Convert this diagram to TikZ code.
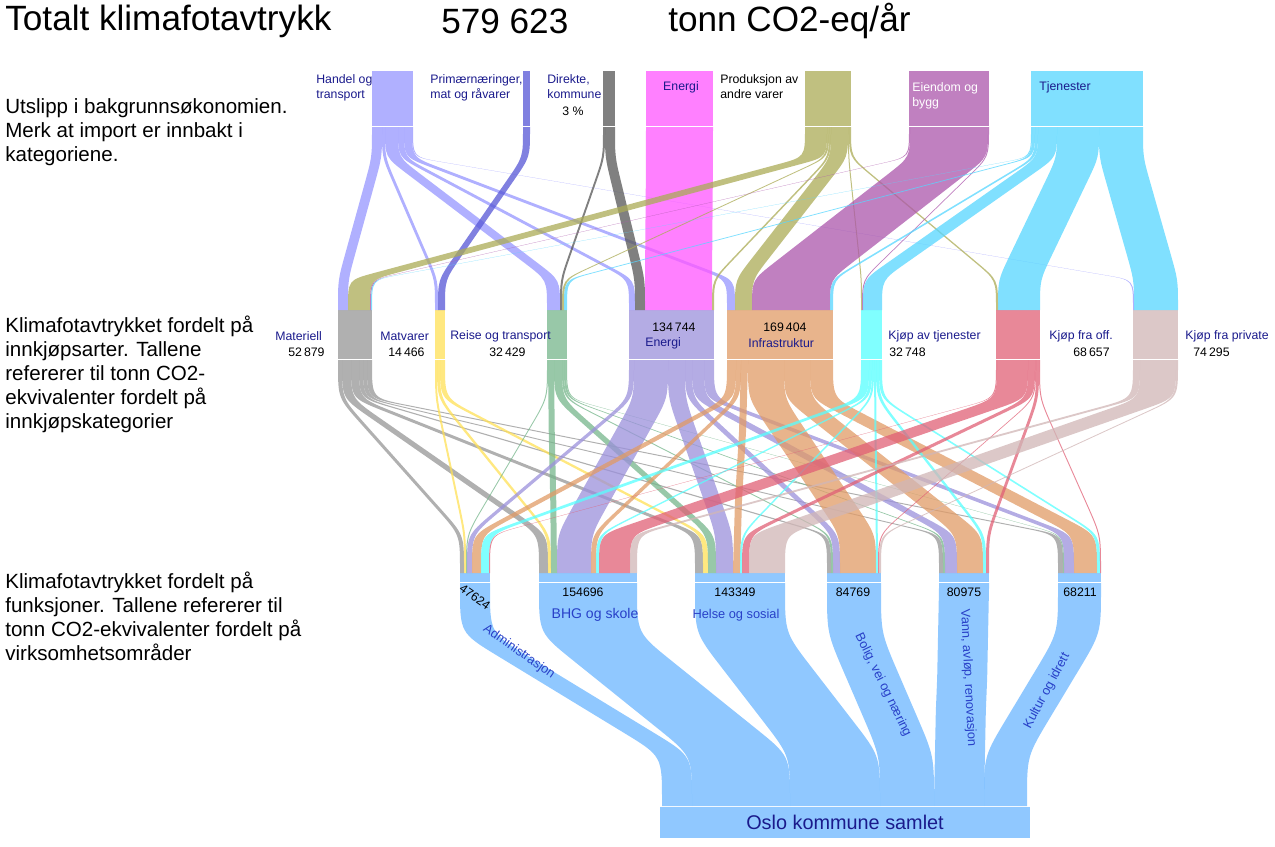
\documentclass[tikz,border=0pt]{standalone}
\usepackage{fontspec}
\setmainfont{Liberation Sans}
\usetikzlibrary{calc}
% colours are the base tones, shown at fill opacity .75
\definecolor{handel}{RGB}{150,150,255}
\definecolor{primaer}{RGB}{86,86,214}
\definecolor{direkte}{RGB}{86,86,86}
\definecolor{energitopp}{RGB}{255,86,255}
\definecolor{produksjon}{RGB}{171,171,86}
\definecolor{eiendom}{RGB}{171,86,171}
\definecolor{tjenestetopp}{RGB}{86,214,255}
\definecolor{materiell}{RGB}{150,150,150}
\definecolor{matvarer}{RGB}{255,224,86}
\definecolor{reise}{RGB}{118,182,139}
\definecolor{energi}{RGB}{155,144,219}
\definecolor{infra}{RGB}{224,155,102}
\definecolor{tjenester}{RGB}{86,255,255}
\definecolor{offentlig}{RGB}{224,96,118}
\definecolor{privat}{RGB}{208,182,182}
\definecolor{funksjon}{RGB}{107,182,255}
\definecolor{lbl}{RGB}{26,26,140}
\definecolor{funklbl}{RGB}{40,64,200}
\tikzset{
	barfill/.style={fill=#1, fill opacity=.75},
}
% band from (xa1..xa2, ya) down to (xb1..xb2, yb): vertical stub #8, straight slope, corner radius #9
\newcommand{\band}[9]{%
	\fill[barfill=#1] (#2,#4) -- (#2,#4+#8-#9)
		.. controls (#2,#4+#8) .. ($(#2,#4+#8)!#9*0.02cm!(#5,#7-#8)$)
		-- ($(#5,#7-#8)!#9*0.02cm!(#2,#4+#8)$)
		.. controls (#5,#7-#8) .. (#5,#7-#8+#9) -- (#5,#7)
		-- (#6,#7) -- (#6,#7-#8+#9)
		.. controls (#6,#7-#8) .. ($(#6,#7-#8)!#9*0.02cm!(#3,#4+#8)$)
		-- ($(#3,#4+#8)!#9*0.02cm!(#6,#7-#8)$)
		.. controls (#3,#4+#8) .. (#3,#4+#8-#9) -- (#3,#4) -- cycle;}

\begin{document}
\begin{tikzpicture}[x=0.02cm, y=-0.02cm]
	\tikzstyle{head} = [anchor=west, inner sep=0, font=\fontsize{20}{24}\selectfont]
	\tikzstyle{side} = [anchor=north west, align=left, inner sep=0, font=\fontsize{11.7}{13.6}\selectfont]
	\tikzstyle{small} = [anchor=north west, align=left, inner sep=0, text=lbl, font=\fontsize{7}{8.5}\selectfont]
	\tikzstyle{tag} = [anchor=west, inner sep=0, text=lbl, font=\fontsize{7}{8.5}\selectfont]
	\tikzstyle{num} = [anchor=west, inner sep=0, font=\fontsize{7}{8.5}\selectfont]
	\tikzstyle{funk} = [inner sep=0, text=funklbl, font=\fontsize{7.3}{8.5}\selectfont]
	\useasboundingbox (0,0) rectangle (1275,846);

	% bars: sources, purchase types, functions
	\fill[barfill=handel] (372,71) rectangle (413,126);
	\fill[barfill=primaer] (523,71) rectangle (530,126);
	\fill[barfill=direkte] (603,71) rectangle (615,126);
	\fill[barfill=energitopp] (646,71) rectangle (713,126);
	\fill[barfill=produksjon] (805,71) rectangle (851,126);
	\fill[barfill=eiendom] (909,71) rectangle (989,126);
	\fill[barfill=tjenestetopp] (1031,71) rectangle (1143,126);

	\fill[barfill=materiell] (338,310) rectangle (372,359);
	\fill[barfill=matvarer] (435,310) rectangle (445,359);
	\fill[barfill=reise] (547,310) rectangle (567,359);
	\fill[barfill=energi] (629,310) rectangle (714,359);
	\fill[barfill=infra] (727,310) rectangle (833,359);
	\fill[barfill=tjenester] (861,310) rectangle (882,359);
	\fill[barfill=offentlig] (996,310) rectangle (1040,359);
	\fill[barfill=privat] (1133,310) rectangle (1178,359);

	\foreach \a/\b in {460/490, 539/637, 695/785, 827/881, 939/989, 1058/1101}
		\fill[barfill=funksjon] (\a,573) rectangle (\b,582);
	\fill[barfill=funksjon] (660,807) rectangle (1030,838);

	% sources -> purchase types
	\foreach \col/\a/\b/\p/\q in {
		handel/372/382/338/348, handel/382/385/435/438, handel/385/398/547/560,
		handel/398/404/629/635, handel/404/412/727/735, handel/412/413/1133/1134,
		primaer/523/530/438/445,
		direkte/603/605/560/562, direkte/605/615/635/645,
		energitopp/646/713/645/712,
		produksjon/805/827/348/370, produksjon/827/829/562/564, produksjon/829/831/712/714,
		produksjon/831/848/735/752, produksjon/848/849/861/862, produksjon/849/851/996/998,
		eiendom/909/910/370/371, eiendom/910/988/752/830, eiendom/988/989/862/863,
		tjenestetopp/1031/1032/371/372, tjenestetopp/1032/1035/564/567,
		tjenestetopp/1035/1038/830/833, tjenestetopp/1038/1057/863/882,
		tjenestetopp/1057/1099/998/1040, tjenestetopp/1099/1143/1134/1178}
		{\band{\col}{\a}{\b}{127}{\p}{\q}{310}{30}{28}}

	% purchase types -> functions
	\foreach \col/\a/\b/\p/\q in {
		materiell/338/342/460/464, materiell/342/351/539/548, materiell/351/359/695/703,
		materiell/359/363/827/831, materiell/363/367/939/943, materiell/367/372/1058/1063,
		matvarer/435/437/464/466, matvarer/437/440/548/551, matvarer/440/445/703/708,
		reise/547/548/466/467, reise/548/554/551/557, reise/554/562/708/716,
		reise/562/564/831/833, reise/564/566/943/945, reise/566/567/1063/1064,
		energi/629/634/467/472, energi/634/668/557/591, energi/668/685/716/733,
		energi/685/692/833/840, energi/692/704/945/957, energi/704/714/1064/1074,
		infra/727/736/472/481, infra/736/741/591/596, infra/741/748/733/740,
		infra/748/784/840/876, infra/784/810/957/983, infra/810/833/1074/1097,
		tjenester/861/869/481/489, tjenester/869/872/596/599, tjenester/872/874/740/742,
		tjenester/874/876/876/878, tjenester/876/879/983/986, tjenester/879/882/1097/1100,
		offentlig/996/997/489/490, offentlig/997/1028/599/630, offentlig/1028/1035/742/749,
		offentlig/1035/1036/878/879, offentlig/1036/1039/986/989, offentlig/1039/1040/1100/1101,
		privat/1133/1140/630/637, privat/1140/1176/749/785, privat/1176/1178/879/881}
		{\band{\col}{\a}{\b}{360}{\p}{\q}{573}{38}{34}}

	% functions -> total
	\foreach \a/\b/\p/\q in {460/490/662/692, 539/637/692/790, 695/785/790/880,
		827/881/880/934, 939/989/934/984, 1058/1101/984/1027}
		{\band{funksjon}{\a}{\b}{583}{\p}{\q}{806}{50}{45}}

	% heading
	\node (title)[head] at (5,21) {Totalt klimafotavtrykk};
	\node (total)[head] at (441,21) {579 623};
	\node (unit)[head] at (668,21) {tonn CO2-eq/år};

	% left hand texts
	\node (rowone)[side] at (5,98) {Utslipp i bakgrunnsøkonomien.\\Merk at import er innbakt i\\kategoriene.};
	\node (rowtwo)[side] at (5,316) {Klimafotavtrykket fordelt på\\innkjøpsarter. Tallene\\refererer til tonn CO2-\\ekvivalenter fordelt på\\innkjøpskategorier};
	\node (rowthree)[side] at (5,572) {Klimafotavtrykket fordelt på\\funksjoner. Tallene refererer til\\tonn CO2-ekvivalenter fordelt på\\virksomhetsområder};

	% source labels
	\node (handellbl)[small] at (316,74) {Handel og\\transport};
	\node (primlbl)[small] at (430,74) {Primærnæringer,\\mat og råvarer};
	\node (dirlbl)[small] at (547,74) {Direkte,\\kommune};
	\node (dirpct)[num, anchor=center] at (573,111) {3 \%};
	\node (energitopplbl)[tag, anchor=center] at (681,87) {Energi};
	\node (prodlbl)[small, text=black] at (720,74) {Produksjon av\\andre varer};
	\node (eiendlbl)[small, text=white] at (912,82) {Eiendom og\\bygg};
	\node (tjentopplbl)[tag] at (1039,87) {Tjenester};

	% purchase type labels
	\node (matlbl)[tag] at (275,336) {Materiell};
	\node (matnum)[num] at (288,352) {52\,879};
	\node (matvlbl)[tag] at (380,336) {Matvarer};
	\node (matvnum)[num] at (388,352) {14\,466};
	\node (reiselbl)[tag] at (450,336) {Reise og transport};
	\node (reisenum)[num] at (489,352) {32\,429};
	\node (energinum)[num] at (652,327) {134\,744};
	\node (energilbl)[tag] at (645,343) {Energi};
	\node (infranum)[num] at (763,327) {169\,404};
	\node (infralbl)[tag] at (748,343) {Infrastruktur};
	\node (tjenlbl)[tag] at (888,336) {Kjøp av tjenester};
	\node (tjennum)[num] at (889,352) {32\,748};
	\node (offlbl)[tag] at (1049,336) {Kjøp fra off.};
	\node (offnum)[num] at (1073,352) {68\,657};
	\node (privlbl)[tag] at (1185,336) {Kjøp fra private};
	\node (privnum)[num] at (1193,352) {74\,295};

	% function labels
	\node (adminnum)[num, anchor=center, rotate=-35] at (475,597) {47624};
	\node (bhgnum)[num, anchor=center] at (583,592) {154696};
	\node (helsenum)[num, anchor=center] at (735,592) {143349};
	\node (bolignum)[num, anchor=center] at (853,592) {84769};
	\node (vannnum)[num, anchor=center] at (964,592) {80975};
	\node (kulturnum)[num, anchor=center] at (1080,592) {68211};
	\node (adminlbl)[funk, rotate=-35] at (519,652) {Administrasjon};
	\node (bhglbl)[funk, font=\fontsize{8}{9}\selectfont] at (595,615) {BHG og skole};
	\node (helselbl)[funk] at (736,615) {Helse og sosial};
	\node (boliglbl)[funk, rotate=-64] at (883,685) {Bolig, vei og næring};
	\node (vannlbl)[funk, rotate=-87] at (968,678) {Vann, avløp, renovasjon};
	\node (kulturlbl)[funk, rotate=62] at (1047,691) {Kultur og idrett};
	\node (oslo)[inner sep=0, text=lbl, font=\fontsize{11.3}{13}\selectfont] at (845,822) {Oslo kommune samlet};
\end{tikzpicture}
\end{document}
